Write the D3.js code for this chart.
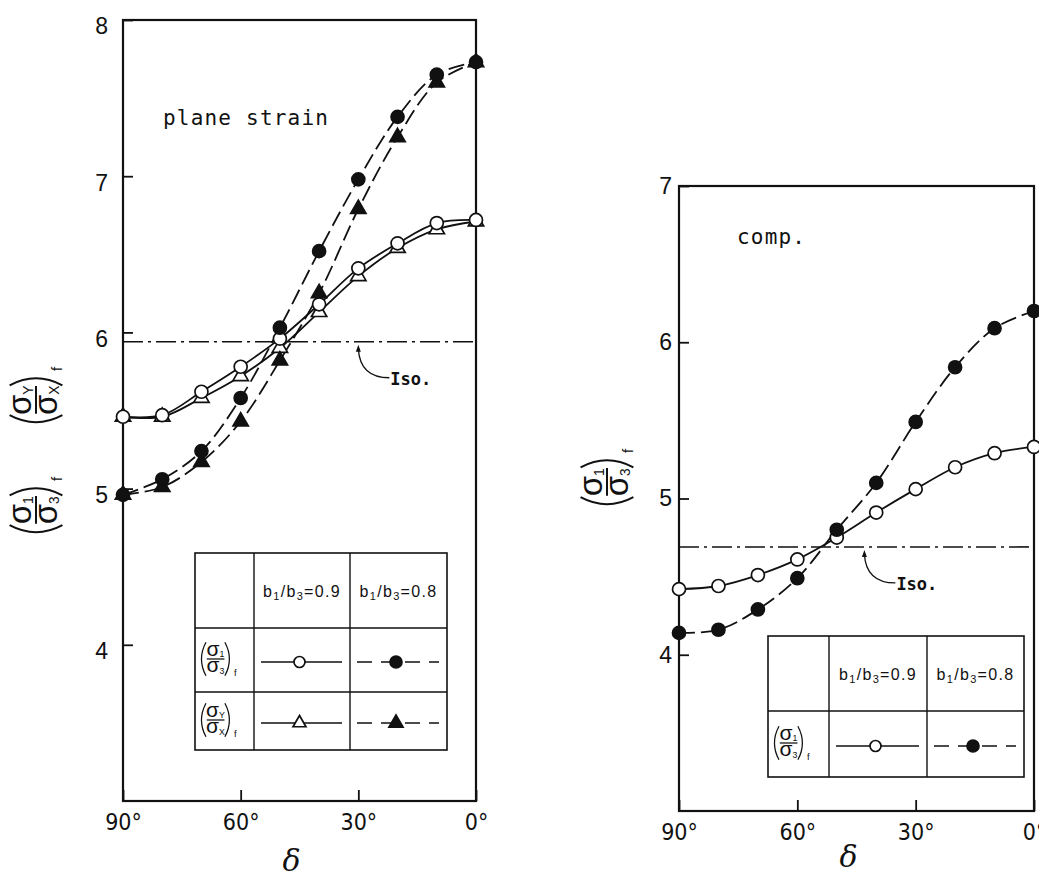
<!DOCTYPE html>
<html>
<head>
<meta charset="utf-8">
<script src="https://cdn.jsdelivr.net/npm/d3@7"></script>
<style>
body{margin:0;background:#fff}
svg{display:block}
</style>
</head>
<body>
<script>
// data
const angles=[90,80,70,60,50,40,30,20,10,0]
const xTicks=[90,60,30,0]

// plane strain panel
const psS13_09=[5.46,5.47,5.62,5.78,5.96,6.18,6.41,6.57,6.70,6.72]
const psSyx_09=[5.46,5.46,5.58,5.72,5.90,6.13,6.36,6.54,6.66,6.71]
const psS13_08=[4.96,5.06,5.24,5.58,6.03,6.52,6.98,7.38,7.65,7.73]
const psSyx_08=[4.96,5.01,5.17,5.43,5.82,6.25,6.79,7.25,7.60,7.73]
const psIso=5.94
const psYTicks=[4,5,6,7,8]

// compression panel
const cpS13_09=[4.42,4.44,4.51,4.61,4.75,4.91,5.06,5.20,5.29,5.33]
const cpS13_08=[4.14,4.16,4.29,4.49,4.80,5.10,5.49,5.84,6.09,6.20]
const cpIso=4.69
const cpYTicks=[4,5,6,7]

const headers=["0.9","0.8"]

const INK="#111"
const SANS='"Liberation Sans", Arial, sans-serif'
const NARROW='"Liberation Sans Narrow", "DejaVu Sans Condensed", "Liberation Sans", sans-serif'
const MONO='"DejaVu Sans Mono", "Liberation Mono", monospace'

const svg=d3.select("body").append("svg")
    .attr("width",1039)
    .attr("height",882)

// sigma with subscript
function sigma(g,x,y,sub,s){
    const t=g.append("text").attr("x",x).attr("y",y)
        .attr("text-anchor","middle")
        .attr("font-family",SANS).attr("font-size",s).attr("fill",INK)
    t.append("tspan").text("σ")
    t.append("tspan").attr("font-size",s*0.42).attr("dy",s*0.06).text(sub)
}

// ( σa / σb )f  -- origin at left end, bar at y=0, parentheses drawn as arcs
function fraction(parent,s,numSub,denSub){
    const g=parent.append("g")
    const pw=0.38*s,fw=0.9*s,h=0.8*s
    const sw=Math.max(1.2,s*0.06)
    g.append("path")
        .attr("d",`M${pw},${-h} Q${-0.05*s},0 ${pw},${h}`)
        .attr("fill","none").attr("stroke",INK).attr("stroke-width",sw)
    sigma(g,pw+fw/2,-0.14*s,numSub,s)
    g.append("line").attr("x1",pw+0.04*s).attr("x2",pw+fw-0.02*s)
        .attr("y1",0).attr("y2",0)
        .attr("stroke",INK).attr("stroke-width",sw)
    sigma(g,pw+fw/2,0.64*s,denSub,s)
    const rx=pw+fw
    g.append("path")
        .attr("d",`M${rx},${-h} Q${rx+pw+0.05*s},0 ${rx},${h}`)
        .attr("fill","none").attr("stroke",INK).attr("stroke-width",sw)
    g.append("text").attr("x",rx+pw+0.06*s).attr("y",0.8*s)
        .attr("font-family",SANS).attr("font-size",0.45*s).attr("fill",INK).text("f")
    return {g:g,w:rx+pw+0.32*s}
}

function marker(g,type,cx,cy,r){
    if(type==="circle"||type==="dot"){
        g.append("circle").attr("cx",cx).attr("cy",cy).attr("r",r)
            .attr("fill",type==="dot"?INK:"#fff")
            .attr("stroke",INK).attr("stroke-width",1.7)
    }else{
        g.append("path")
            .attr("d",d3.symbol().type(d3.symbolTriangle).size(r*r*2.4)())
            .attr("transform",`translate(${cx},${cy})`)
            .attr("fill",type==="tri"?INK:"#fff")
            .attr("stroke",INK).attr("stroke-width",1.7)
    }
}

function panel(cfg){
    const x=d3.scaleLinear().domain([90,0]).range([cfg.x0,cfg.x1])
    const y=d3.scaleLinear().domain(cfg.yDomain).range([cfg.yBot,cfg.yTop])
    const g=svg.append("g")

    // y axis, ticks pointing inward
    g.append("g")
        .attr("transform",`translate(${cfg.x0},0)`)
        .call(d3.axisLeft(y).tickValues(cfg.yTicks).tickSizeInner(-10).tickSizeOuter(0)
            .tickPadding(cfg.yPad).tickFormat(d3.format("d")))
        .call(a=>a.select(".domain").remove())
        .call(a=>a.selectAll("line").attr("stroke",INK).attr("stroke-width",1.8))
        .call(a=>a.selectAll("text").attr("font-family",SANS).attr("font-size",23)
            .attr("fill",INK).attr("dy",cfg.yDy))

    // x axis
    g.append("g")
        .attr("transform",`translate(0,${cfg.yBot})`)
        .call(d3.axisBottom(x).tickValues(xTicks).tickSizeInner(-11).tickSizeOuter(0)
            .tickPadding(13).tickFormat(d=>d+"°"))
        .call(a=>a.select(".domain").remove())
        .call(a=>a.selectAll("line").attr("stroke",INK).attr("stroke-width",1.8))
        .call(a=>a.selectAll("text").attr("font-family",NARROW).attr("font-size",23).attr("fill",INK))

    // frame
    g.append("rect")
        .attr("x",cfg.x0).attr("y",cfg.yTop)
        .attr("width",cfg.x1-cfg.x0).attr("height",cfg.yBot-cfg.yTop)
        .attr("fill","none").attr("stroke",INK).attr("stroke-width",2.2)

    // isotropic reference line
    g.append("line")
        .attr("x1",cfg.x0).attr("x2",cfg.x1)
        .attr("y1",y(cfg.iso)).attr("y2",y(cfg.iso))
        .attr("stroke",INK).attr("stroke-width",1.6)
        .attr("stroke-dasharray","20,5,3,5")

    const ax=x(cfg.isoAt),ay=y(cfg.iso)+3
    g.append("path")
        .attr("d",`M${ax+31},${ay+33} C${ax+10},${ay+33} ${ax+1},${ay+22} ${ax},${ay+4}`)
        .attr("fill","none").attr("stroke",INK).attr("stroke-width",1.3)
    g.append("path")
        .attr("d",`M${ax},${ay} L${ax-2.5},${ay+7} L${ax+2.5},${ay+7} Z`)
        .attr("fill",INK)
    g.append("text").attr("x",ax+32).attr("y",ay+40)
        .attr("font-family",MONO).attr("font-size",17).attr("font-weight","bold")
        .attr("fill",INK).text("Iso.")

    // curves
    const line=d3.line()
        .x(d=>x(d[0])).y(d=>y(d[1]))
        .curve(d3.curveCatmullRom.alpha(0.5))
    cfg.series.forEach(s=>{
        g.append("path")
            .datum(angles.map((a,i)=>[a,s.values[i]]))
            .attr("d",line)
            .attr("fill","none").attr("stroke",INK).attr("stroke-width",1.8)
            .attr("stroke-dasharray",s.dashed?"16,6":null)
    })
    cfg.series.forEach(s=>{
        angles.forEach((a,i)=>marker(g,s.marker,x(a),y(s.values[i]),6.5))
    })

    // panel title
    g.append("text").attr("x",cfg.x0+cfg.titleDx).attr("y",cfg.yTop+cfg.titleDy)
        .attr("font-family",MONO).attr("font-size",21).attr("letter-spacing",1.2)
        .attr("fill",INK).text(cfg.title)

    // delta
    g.append("text").attr("x",(cfg.x0+cfg.x1)/2-8).attr("y",cfg.yBot+cfg.deltaDy)
        .attr("text-anchor","middle")
        .attr("font-family",'"DejaVu Serif", serif').attr("font-style","italic")
        .attr("font-size",30).attr("fill",INK).text("δ")

    // y label(s), rotated
    cfg.yLabels.forEach(l=>{
        const f=fraction(g,l.s,l.num,l.den)
        f.g.attr("transform",`translate(${l.cx},${l.cy}) rotate(-90) translate(${-f.w/2},0)`)
    })

    // legend table
    const L=cfg.legend
    const tg=g.append("g")
    tg.append("rect").attr("x",L.xs[0]).attr("y",L.ys[0])
        .attr("width",L.xs[3]-L.xs[0]).attr("height",L.ys[L.ys.length-1]-L.ys[0])
        .attr("fill","#fff").attr("stroke",INK).attr("stroke-width",1.6)
    L.xs.slice(1,3).forEach(xx=>tg.append("line").attr("x1",xx).attr("x2",xx)
        .attr("y1",L.ys[0]).attr("y2",L.ys[L.ys.length-1]).attr("stroke",INK).attr("stroke-width",1.4))
    L.ys.slice(1,-1).forEach(yy=>tg.append("line").attr("y1",yy).attr("y2",yy)
        .attr("x1",L.xs[0]).attr("x2",L.xs[3]).attr("stroke",INK).attr("stroke-width",1.4))
    headers.forEach((h,i)=>{
        const t=tg.append("text")
            .attr("x",(L.xs[i+1]+L.xs[i+2])/2)
            .attr("y",(L.ys[0]+L.ys[1])/2+6)
            .attr("text-anchor","middle")
            .attr("font-family",SANS).attr("font-size",16).attr("letter-spacing",1.3)
            .attr("fill",INK)
        t.append("tspan").text("b")
        t.append("tspan").attr("font-size",11).attr("dy",3).text("1")
        t.append("tspan").attr("dy",-3).text("/b")
        t.append("tspan").attr("font-size",11).attr("dy",3).text("3")
        t.append("tspan").attr("dy",-3).text("="+h)
    })
    L.rows.forEach((r,ri)=>{
        const cy=(L.ys[ri+1]+L.ys[ri+2])/2
        const f=fraction(tg,21,r.num,r.den)
        f.g.attr("transform",`translate(${L.xs[0]+3},${cy-1})`)
        r.markers.forEach((m,ci)=>{
            const a=L.xs[ci+1]+7,b=L.xs[ci+2]-8
            tg.append("line").attr("x1",a).attr("x2",b).attr("y1",cy+2).attr("y2",cy+2)
                .attr("stroke",INK).attr("stroke-width",1.6)
                .attr("stroke-dasharray",ci===1?"15,9":null)
            marker(tg,m,(a+b)/2-2,cy+2,ci===1?6:5.5)
        })
    })
}

panel({
    x0:123,x1:476,yTop:20,yBot:801,yDomain:[3,8],yTicks:psYTicks,yPad:15,yDy:"0.6em",
    iso:psIso,isoAt:30,
    title:"plane strain",titleDx:40,titleDy:105,deltaDy:70,
    series:[
        {values:psSyx_09,marker:"otri",dashed:false},
        {values:psS13_09,marker:"circle",dashed:false},
        {values:psSyx_08,marker:"tri",dashed:true},
        {values:psS13_08,marker:"dot",dashed:true}
    ],
    yLabels:[
        {cx:36,cy:395,s:33,num:"Y",den:"X"},
        {cx:36,cy:505,s:33,num:"1",den:"3"}
    ],
    legend:{xs:[195,254,350,447],ys:[553,628,692,750],
        rows:[{num:"1",den:"3",markers:["circle","dot"]},
              {num:"Y",den:"X",markers:["otri","tri"]}]}
})

panel({
    x0:679,x1:1034,yTop:186,yBot:811,yDomain:[3,7],yTicks:cpYTicks,yPad:7,yDy:"0.32em",
    iso:cpIso,isoAt:43,
    title:"comp.",titleDx:58,titleDy:58,deltaDy:56,
    series:[
        {values:cpS13_09,marker:"circle",dashed:false},
        {values:cpS13_08,marker:"dot",dashed:true}
    ],
    yLabels:[
        {cx:607,cy:477,s:33,num:"1",den:"3"}
    ],
    legend:{xs:[768,829,927,1024],ys:[636,711,777],
        rows:[{num:"1",den:"3",markers:["circle","dot"]}]}
})
</script>
</body>
</html>
